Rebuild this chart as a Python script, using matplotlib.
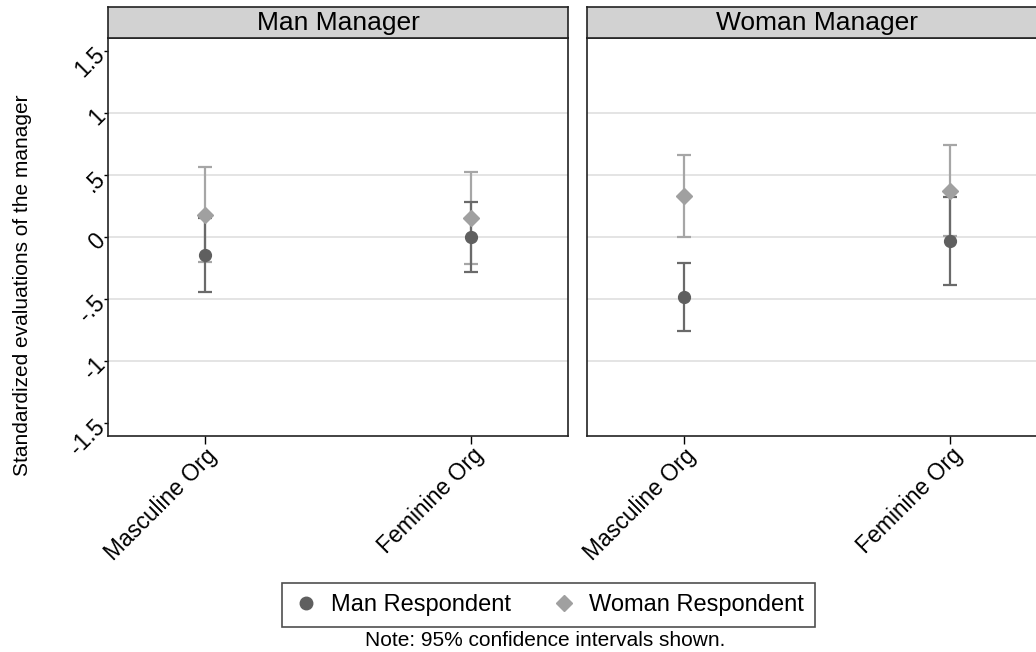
import numpy as np
import matplotlib
matplotlib.use("Agg")
import matplotlib.pyplot as plt
from matplotlib.lines import Line2D

plt.rcParams['font.family'] = ['Liberation Sans', 'DejaVu Sans']

panels = ["Man Manager", "Woman Manager"]
orgs = ["Masculine Org", "Feminine Org"]

# estimates and 95% CIs, [panel][org]
man_est = [[-0.145, 0.00], [-0.48, -0.03]]
man_lo = [[-0.44, -0.28], [-0.755, -0.385]]
man_hi = [[0.15, 0.28], [-0.21, 0.325]]

woman_est = [[0.18, 0.15], [0.33, 0.37]]
woman_lo = [[-0.20, -0.22], [0.00, 0.005]]
woman_hi = [[0.56, 0.52], [0.66, 0.74]]

yticks = [-1.5, -1, -0.5, 0, 0.5, 1, 1.5]
ytick_labels = ["-1.5", "-1", "-.5", "0", ".5", "1", "1.5"]

dark_pt = "#5f5f5f"
dark_ci = "#6a6a6a"
light_pt = "#a0a0a0"
light_ci = "#a6a6a6"

W, H = 1036, 652
fig = plt.figure(figsize=(W / 100, H / 100), dpi=100)

def px(x0, y0, x1, y1):
    return [x0 / W, (H - y1) / H, (x1 - x0) / W, (y1 - y0) / H]

lefts = [108.3, 587.3]
xs = np.arange(len(orgs))
for i, name in enumerate(panels):
    ax = fig.add_axes(px(lefts[i], 38.3, lefts[i] + 460, 435.7))
    ax.set_xlim(-0.364, 1.364)
    ax.set_ylim(-1.6, 1.6)
    for y in yticks[1:-1]:
        ax.axhline(y, color="#e2e2e2", lw=1.3, zorder=0)

    ax.errorbar(xs, woman_est[i],
                yerr=[np.array(woman_est[i]) - np.array(woman_lo[i]),
                      np.array(woman_hi[i]) - np.array(woman_est[i])],
                fmt="none", ecolor=light_ci, elinewidth=1.6, capsize=5, capthick=1.6, zorder=2)
    ax.errorbar(xs, man_est[i],
                yerr=[np.array(man_est[i]) - np.array(man_lo[i]),
                      np.array(man_hi[i]) - np.array(man_est[i])],
                fmt="none", ecolor=dark_ci, elinewidth=1.6, capsize=5, capthick=1.6, zorder=3)
    ax.plot(xs, man_est[i], "o", color=dark_pt, ms=8.5, zorder=4, ls="none")
    ax.plot(xs, woman_est[i], "D", color=light_pt, ms=8.5, zorder=5, ls="none")

    ax.set_xticks(xs)
    ax.set_xticklabels(orgs, rotation=45, ha="right", rotation_mode="anchor", fontsize=16.5)
    ax.set_yticks(yticks)
    if i == 0:
        ax.set_yticklabels(ytick_labels, rotation=45, ha="right", va="center",
                           rotation_mode="anchor", fontsize=16.5)
        ax.tick_params(axis="y", length=3, width=1, pad=2)
    else:
        ax.set_yticklabels([])
        ax.tick_params(axis="y", length=0)
    ax.tick_params(axis="x", length=6, width=1, pad=0)
    for s in ax.spines.values():
        s.set_linewidth(1.2)
        s.set_color("#222222")

    strip = fig.add_axes(px(lefts[i], 7.3, lefts[i] + 460, 38.3))
    strip.set_facecolor("#d2d2d2")
    strip.set_xticks([])
    strip.set_yticks([])
    for s in strip.spines.values():
        s.set_linewidth(1.2)
        s.set_color("#222222")
    strip.text(0.5, 0.5, name, ha="center", va="center", fontsize=19,
               transform=strip.transAxes)

fig.text(23 / W, 1 - 285 / H, "Standardized evaluations of the manager",
         rotation=90, ha="center", va="center", fontsize=15)

handles = [Line2D([], [], marker="o", color=dark_pt, ls="none", ms=9),
           Line2D([], [], marker="D", color=light_pt, ls="none", ms=8)]
leg = fig.legend(handles, ["Man Respondent", "Woman Respondent"], loc="center",
                 bbox_to_anchor=(548 / W, 1 - 605 / H), ncol=2, fontsize=17,
                 frameon=True, fancybox=False, edgecolor="#222222",
                 handlelength=1.2, handletextpad=0.45, columnspacing=1.65,
                 borderpad=0.45, borderaxespad=0)
leg.get_frame().set_linewidth(1.2)

fig.text(545 / W, 1 - 641 / H, "Note: 95% confidence intervals shown.",
         ha="center", va="center", fontsize=15)

fig.savefig("out.png", dpi=100)
